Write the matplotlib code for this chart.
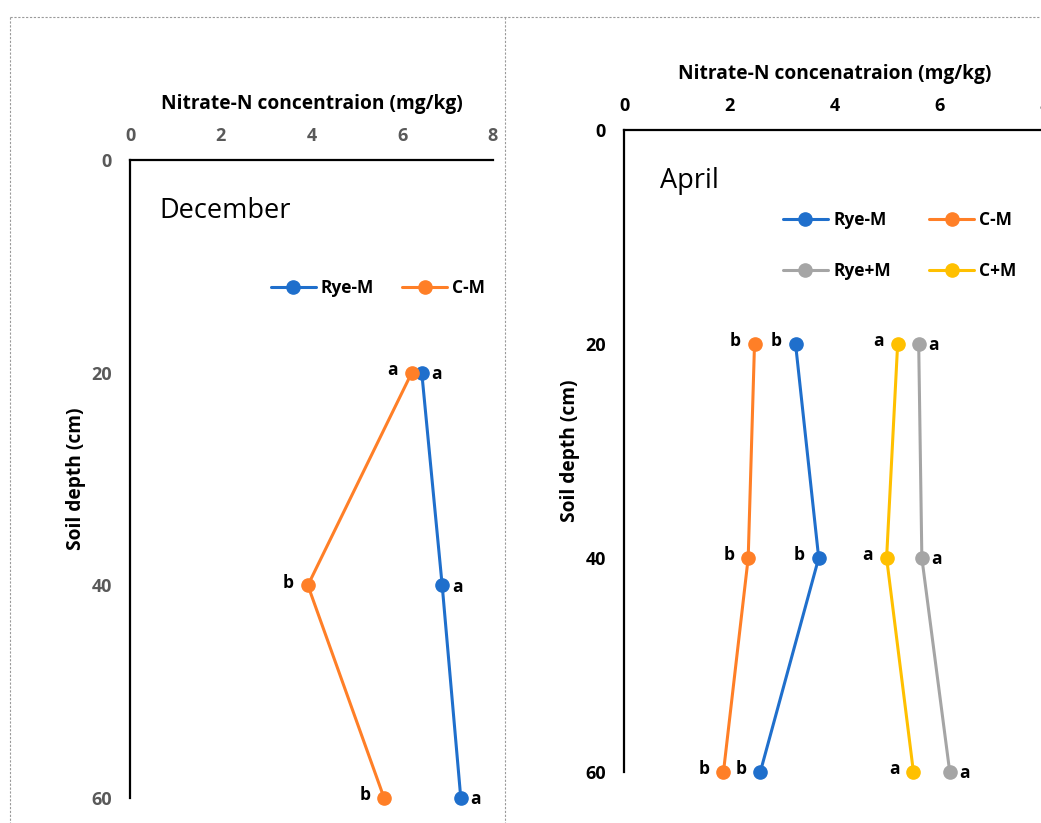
import matplotlib.pyplot as plt
from matplotlib.lines import Line2D

plt.rcParams["font.family"] = ["Open Sans", "DejaVu Sans"]

depths = [20, 40, 60]

# December
dec_rye_minus = [6.43, 6.88, 7.29]
dec_c_minus = [6.21, 3.92, 5.60]
dec_rye_minus_letters = ["a", "a", "a"]
dec_c_minus_letters = ["a", "b", "b"]

# April
apr_rye_minus = [3.26, 3.70, 2.59]
apr_c_minus = [2.48, 2.36, 1.89]
apr_rye_plus = [5.60, 5.66, 6.19]
apr_c_plus = [5.20, 4.99, 5.50]
apr_rye_minus_letters = ["b", "b", "b"]
apr_c_minus_letters = ["b", "b", "b"]
apr_rye_plus_letters = ["a", "a", "a"]
apr_c_plus_letters = ["a", "a", "a"]

x_ticks = [0, 2, 4, 6, 8]
y_ticks = [0, 20, 40, 60]

BLUE = "#1F6FCC"
ORANGE = "#FF7F27"
GREY = "#A5A5A5"
YELLOW = "#FFC000"

W, H = 1041, 823
fig = plt.figure(figsize=(W / 100, H / 100), dpi=100)


def fx(px):
    return px / W


def fy(py):
    return 1 - py / H


# dotted panel frames
frame_style = dict(color="#9A9A9A", lw=0.8, linestyle=(0, (2, 1.5)))
fig.add_artist(Line2D([fx(10), fx(1041)], [fy(17), fy(17)], **frame_style))
fig.add_artist(Line2D([fx(10), fx(10)], [fy(17), 0], **frame_style))
fig.add_artist(Line2D([fx(505), fx(505)], [fy(17), 0], **frame_style))


def style_axes(axes, tick_color, xlabel):
    axes.set_xlim(0, 8)
    axes.set_ylim(60, 0)
    axes.set_xticks(x_ticks)
    axes.set_yticks(y_ticks)
    axes.xaxis.tick_top()
    axes.xaxis.set_label_position("top")
    for side in ["right", "bottom"]:
        axes.spines[side].set_visible(False)
    for side in ["top", "left"]:
        axes.spines[side].set_linewidth(1.6)
        axes.spines[side].set_color("black")
    axes.tick_params(axis="x", length=0, labelsize=13, colors=tick_color, pad=11)
    axes.tick_params(axis="y", length=0, labelsize=13, colors=tick_color, pad=13)
    for label in axes.get_xticklabels() + axes.get_yticklabels():
        label.set_fontweight("bold")
    axes.set_xlabel(xlabel, fontsize=13.8, fontweight="bold", labelpad=13)
    axes.set_ylabel("Soil depth (cm)", fontsize=13.8, fontweight="bold", labelpad=4)
    axes.patch.set_alpha(0)


def plot_series(axes, values, color, label, letters, side):
    axes.plot(values, depths, color=color, lw=2.2, marker="o", markersize=9.5,
              label=label, clip_on=False, solid_capstyle="round")
    for value, depth, letter in zip(values, depths, letters):
        offset = (-10, 2) if side == "left" else (7, -1)
        ha = "right" if side == "left" else "left"
        axes.annotate(letter, (value, depth), xytext=offset,
                      textcoords="offset points", ha=ha, va="center",
                      fontsize=12.5, fontweight="bold")


legend_font = dict(weight="bold", size=12.5)

# left panel
ax_dec = fig.add_axes([fx(130), fy(798), fx(493 - 130), fy(160) - fy(798)])
style_axes(ax_dec, "#595959", "Nitrate-N concentraion (mg/kg)")
plot_series(ax_dec, dec_rye_minus, BLUE, "Rye-M", dec_rye_minus_letters, "right")
plot_series(ax_dec, dec_c_minus, ORANGE, "C-M", dec_c_minus_letters, "left")
ax_dec.text(0.08, 0.92, "December", transform=ax_dec.transAxes, fontsize=19.5,
            va="center", ha="left")
ax_dec.legend(loc="center", bbox_to_anchor=(0.683, 0.8), ncol=2, frameon=False,
              prop=legend_font, handlelength=2.6,
              columnspacing=1.6, handletextpad=0.3)

# right panel
ax_apr = fig.add_axes([fx(624), fy(772), fx(1045 - 624), fy(130) - fy(772)])
style_axes(ax_apr, "black", "Nitrate-N concenatraion (mg/kg)")
plot_series(ax_apr, apr_rye_minus, BLUE, "Rye-M", apr_rye_minus_letters, "left")
plot_series(ax_apr, apr_c_minus, ORANGE, "C-M", apr_c_minus_letters, "left")
plot_series(ax_apr, apr_rye_plus, GREY, "Rye+M", apr_rye_plus_letters, "right")
plot_series(ax_apr, apr_c_plus, YELLOW, "C+M", apr_c_plus_letters, "left")
ax_apr.text(0.085, 0.92, "April", transform=ax_apr.transAxes, fontsize=19.5,
            va="center", ha="left")
handles, labels = ax_apr.get_legend_handles_labels()
order = [0, 2, 1, 3]
ax_apr.legend([handles[i] for i in order], [labels[i] for i in order],
              loc="center", bbox_to_anchor=(0.655, 0.82), ncol=2, frameon=False,
              prop=legend_font, handlelength=2.6,
              columnspacing=2.2, handletextpad=0.3, labelspacing=1.9)

fig.savefig("out.png", dpi=100)
